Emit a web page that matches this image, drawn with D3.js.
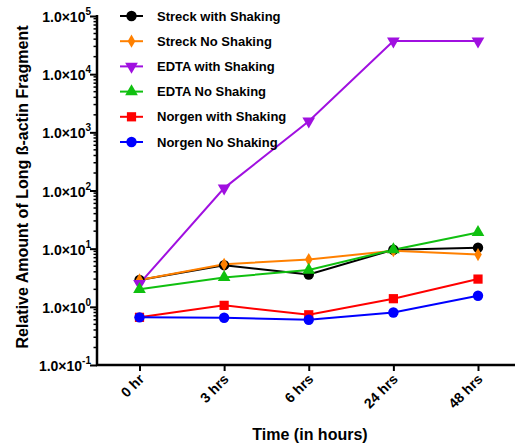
<!DOCTYPE html>
<html>
<head>
<meta charset="utf-8">
<script src="https://cdn.jsdelivr.net/npm/d3@7"></script>
<style>
  body { margin: 0; background: #fff; }
  text { font-family: Arial, "Liberation Sans", sans-serif; font-weight: bold; }
</style>
</head>
<body>
<div id="chart"></div>
<script>
const width = 515;
const height = 445;

// Time points
const timeLabels = ["0 hr", "3 hrs", "6 hrs", "24 hrs", "48 hrs"];

// Series values
const streckShaking = [2.9, 5.2, 3.6, 9.6, 10.4];
const streckNoShaking = [2.9, 5.4, 6.5, 9.2, 7.9];
const edtaShaking = [2.5, 110, 1550, 37000, 37000];
const edtaNoShaking = [2.0, 3.2, 4.3, 9.6, 19];
const norgenShaking = [0.66, 1.06, 0.73, 1.38, 3.0];
const norgenNoShaking = [0.66, 0.65, 0.6, 0.8, 1.55];

const seriesNames = [
  "Streck with Shaking",
  "Streck No Shaking",
  "EDTA with Shaking",
  "EDTA No Shaking",
  "Norgen with Shaking",
  "Norgen No Shaking",
];
const seriesColors = ["#000000", "#ff8000", "#a010e0", "#10c010", "#ff0000", "#0000ff"];
const seriesShapes = ["circle", "diamond", "triDown", "triUp", "square", "circle"];
const seriesValues = [
  streckShaking,
  streckNoShaking,
  edtaShaking,
  edtaNoShaking,
  norgenShaking,
  norgenNoShaking,
];

const yExponents = [-1, 0, 1, 2, 3, 4, 5];

const svg = d3
  .select("#chart")
  .append("svg")
  .attr("width", width)
  .attr("height", height);

const xScale = d3.scalePoint().domain(timeLabels).range([139.5, 478]);
const yScale = d3.scaleLog().domain([0.1, 100000]).range([365, 16]);

// Marker symbols
const symbolFor = {
  circle: d3.symbol().type(d3.symbolCircle).size(85),
  diamond: d3.symbol().type(d3.symbolDiamond).size(50),
  triUp: d3.symbol().type(d3.symbolTriangle).size(70),
  triDown: d3.symbol().type(d3.symbolTriangle).size(70),
  square: d3.symbol().type(d3.symbolSquare).size(85),
};

// Y axis (log) with minor ticks
const minorTicks = [];
for (let e = -1; e < 5; e++) {
  for (let m = 2; m <= 9; m++) minorTicks.push(m * Math.pow(10, e));
}

const yAxisG = svg.append("g").attr("transform", "translate(97,0)");
yAxisG
  .selectAll(".minor")
  .data(minorTicks)
  .enter()
  .append("line")
  .attr("x1", -3.5)
  .attr("x2", 0)
  .attr("y1", (d) => yScale(d))
  .attr("y2", (d) => yScale(d))
  .attr("stroke", "#000")
  .attr("stroke-width", 1.5);

yAxisG
  .call(
    d3
      .axisLeft(yScale)
      .tickValues(yExponents.map((e) => Math.pow(10, e)))
      .tickSize(7)
      .tickFormat("")
  )
  .call((g) => g.select(".domain").attr("stroke-width", 2.5).attr("d", `M0,${yScale(0.1) + 1}V${yScale(100000) - 1}`))
  .call((g) => g.selectAll(".tick line").attr("stroke-width", 2));

const yLabels = yAxisG
  .selectAll(".ylab")
  .data(yExponents)
  .enter()
  .append("text")
  .attr("class", "ylab")
  .attr("x", -6)
  .attr("y", (d) => yScale(Math.pow(10, d)) + 6)
  .attr("text-anchor", "end")
  .attr("font-size", 14)
  .attr("fill", "#000");
yLabels.append("tspan").text("1.0×10");
yLabels
  .append("tspan")
  .attr("dy", -7)
  .attr("font-size", 10)
  .text((d) => d);

// X axis
const xAxisG = svg
  .append("g")
  .attr("transform", "translate(0,365)")
  .call(d3.axisBottom(xScale).tickSize(6).tickSizeOuter(0))
  .call((g) => g.select(".domain").attr("stroke-width", 2.5).attr("d", "M96,0H515"))
  .call((g) => g.selectAll(".tick line").attr("stroke-width", 2));

xAxisG
  .selectAll(".tick text")
  .attr("font-size", 14)
  .attr("font-family", "Arial, 'Liberation Sans', sans-serif")
  .attr("font-weight", "bold")
  .attr("text-anchor", "end")
  .attr("dy", 0)
  .attr("y", 0)
  .attr("transform", "translate(5,15) rotate(-45)");

// Lines and markers
const line = d3
  .line()
  .x((d, i) => xScale(timeLabels[i]))
  .y((d) => yScale(d));

seriesValues.forEach((vals, s) => {
  svg
    .append("path")
    .datum(vals)
    .attr("d", line)
    .attr("fill", "none")
    .attr("stroke", seriesColors[s])
    .attr("stroke-width", 2);
});

seriesValues.forEach((vals, s) => {
  svg
    .selectAll(".m" + s)
    .data(vals)
    .enter()
    .append("path")
    .attr("d", symbolFor[seriesShapes[s]])
    .attr("transform", (d, i) => {
      const rot = seriesShapes[s] === "triDown" ? " rotate(180)" : "";
      return `translate(${xScale(timeLabels[i])},${yScale(d)})${rot}`;
    })
    .attr("fill", seriesColors[s]);
});

// Legend
const legend = svg.append("g").attr("transform", "translate(120,16)");
seriesNames.forEach((name, i) => {
  const row = legend.append("g").attr("transform", `translate(0,${i * 25.2})`);
  row
    .append("line")
    .attr("x1", 0)
    .attr("x2", 23)
    .attr("stroke", seriesColors[i])
    .attr("stroke-width", 2);
  row
    .append("path")
    .attr("d", symbolFor[seriesShapes[i]])
    .attr("transform", `translate(11.5,0)${seriesShapes[i] === "triDown" ? " rotate(180)" : ""}`)
    .attr("fill", seriesColors[i]);
  row
    .append("text")
    .attr("x", 37)
    .attr("y", 4.5)
    .attr("font-size", 13)
    .attr("fill", "#000")
    .text(name);
});

// Axis titles
svg
  .append("text")
  .attr("x", 310)
  .attr("y", 440)
  .attr("text-anchor", "middle")
  .attr("font-size", 16)
  .text("Time (in hours)");

svg
  .append("text")
  .attr("transform", "translate(28,187) rotate(-90)")
  .attr("text-anchor", "middle")
  .attr("font-size", 16)
  .text("Relative Amount of Long ß-actin Fragment");
</script>
</body>
</html>
